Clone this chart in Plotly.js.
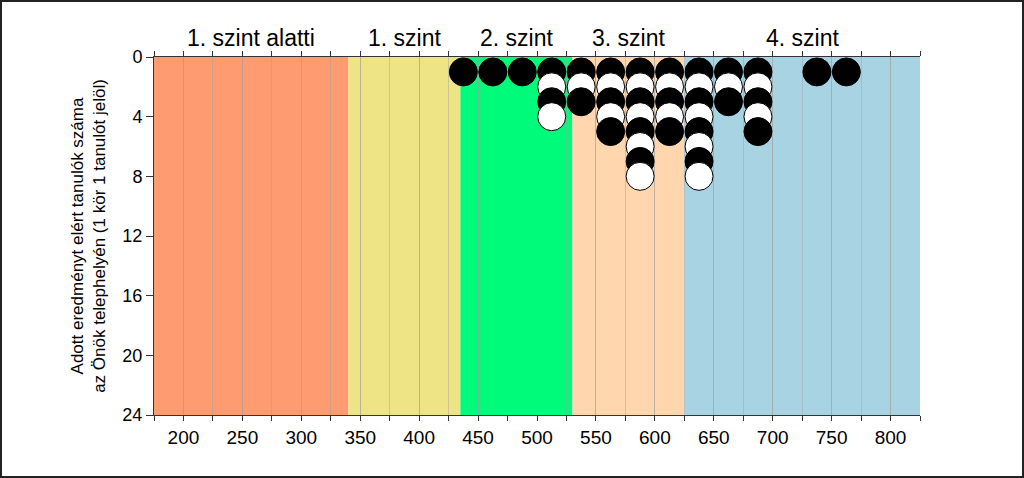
<!DOCTYPE html>
<html>
<head>
<meta charset="utf-8">
<script src="https://cdn.plot.ly/plotly-3.0.1.min.js"></script>
<style>
  html, body { margin: 0; padding: 0; background: #fff; }
  #frame { width: 1024px; height: 478px; box-sizing: border-box; border: 2px solid #222; }
  #chart { width: 1020px; height: 474px; }
</style>
</head>
<body>
<div id="frame"><div id="chart"></div></div>
<script>
// Score bins (centre of each 25-point bin) and number of students in each bin
const binCenters = [437.5, 462.5, 487.5, 512.5, 537.5, 562.5, 587.5, 612.5, 637.5, 662.5, 687.5, 737.5, 762.5];
const studentCounts = [1, 1, 1, 4, 3, 5, 8, 5, 8, 3, 5, 1, 1];

// Proficiency level bands
const levelNames = ["1. szint alatti", "1. szint", "2. szint", "3. szint", "4. szint"];
const levelBounds = [175, 340, 435, 530, 625, 825];
const levelColors = ["#FF9B70", "#EEE385", "#00FA7A", "#FFD6AE", "#A8D3E3"];

const xTickVals = [200, 250, 300, 350, 400, 450, 500, 550, 600, 650, 700, 750, 800];
const yTickVals = [0, 4, 8, 12, 16, 20, 24];

// Build one marker per student, stacked by row (row order so lower dots sit on top)
const maxCount = Math.max(...studentCounts);
const px = [], py = [], pc = [];
for (let r = 1; r <= maxCount; r++) {
  for (let i = 0; i < binCenters.length; i++) {
    if (studentCounts[i] >= r) {
      px.push(binCenters[i]);
      py.push(r);
      pc.push(r % 2 === 1 ? "#000000" : "#FFFFFF");
    }
  }
}

const FONT = "Liberation Sans, Arial, sans-serif";
const GRID = "rgba(160,160,160,0.45)";

const shapes = levelNames.map((n, i) => ({
  type: "rect", xref: "x", yref: "paper",
  x0: levelBounds[i], x1: levelBounds[i + 1], y0: 0, y1: 1,
  fillcolor: levelColors[i], line: { width: 0 }, layer: "below"
}));

const annotations = levelNames.map((n, i) => ({
  text: n, xref: "x", yref: "paper",
  x: (levelBounds[i] + levelBounds[i + 1]) / 2, y: 1,
  yanchor: "bottom", xanchor: "center", yshift: 4, showarrow: false,
  font: { family: FONT, size: 23, color: "#000" }
}));

const traces = [
  {
    type: "scatter", mode: "markers", x: px, y: py,
    marker: { size: 28, color: pc, line: { color: "#000", width: 1 } },
    hoverinfo: "skip", showlegend: false
  },
  { type: "scatter", mode: "markers", x: [], y: [], xaxis: "x2", yaxis: "y", showlegend: false, hoverinfo: "skip" }
];

const layout = {
  width: 1020, height: 474,
  margin: { l: 152, r: 102, t: 55, b: 61 },
  paper_bgcolor: "#fff", plot_bgcolor: "#fff",
  font: { family: FONT, color: "#000" },
  showlegend: false,
  xaxis: {
    range: [175, 825], tickvals: xTickVals, ticks: "outside", ticklen: 5, tickcolor: "#333",
    tickfont: { family: FONT, size: 19, color: "#000" },
    showgrid: true, gridcolor: GRID, gridwidth: 1,
    minor: { dtick: 25, tick0: 175, ticks: "outside", ticklen: 5, tickcolor: "#333", showgrid: true, gridcolor: GRID },
    showline: true, linecolor: "#333", linewidth: 1, zeroline: false, fixedrange: true
  },
  xaxis2: {
    overlaying: "x", side: "top", range: [175, 825], matches: "x",
    tick0: 175, dtick: 25, ticks: "outside", ticklen: 5, tickcolor: "#333",
    showticklabels: false, showgrid: false, showline: true, linecolor: "#333", linewidth: 1, zeroline: false
  },
  yaxis: {
    range: [24, 0], tickvals: yTickVals, ticks: "outside", ticklen: 7, tickcolor: "#333",
    tickfont: { family: FONT, size: 18, color: "#000" },
    showgrid: false, zeroline: false, showline: true, linecolor: "#333", linewidth: 1,
    title: { text: "Adott eredményt elért tanulók száma<br>az Önök telephelyén (1 kör 1 tanulót jelöl)", font: { family: FONT, size: 17, color: "#000" }, standoff: 12 },
    fixedrange: true
  },
  shapes: shapes,
  annotations: annotations
};

Plotly.newPlot("chart", traces, layout, { staticPlot: true, displayModeBar: false });
</script>
</body>
</html>
